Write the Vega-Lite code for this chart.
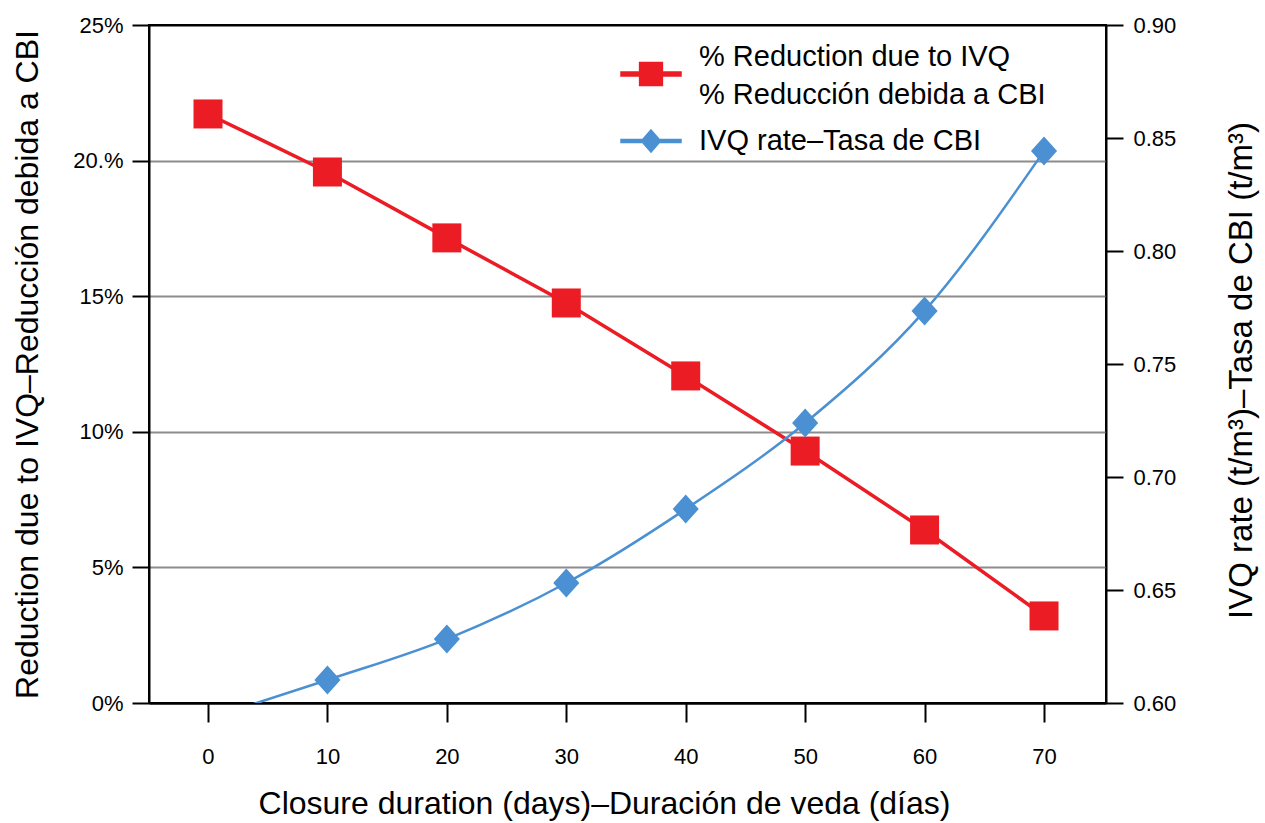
{
  "$schema": "https://vega.github.io/schema/vega-lite/v6.json",
  "width": 957,
  "height": 678,
  "autosize": {"type": "none"},
  "padding": {"left": 149, "top": 25, "right": 159, "bottom": 120},
  "background": "white",
  "config": {
    "font": "Liberation Sans",
    "view": {"stroke": "black", "strokeWidth": 2}
  },
  "datasets": {
    "reduction": [
      {"day": 0, "pct": 0.2172, "series": "% Reduction due to IVQ / % Reducción debida a CBI"},
      {"day": 10, "pct": 0.1958, "series": "% Reduction due to IVQ / % Reducción debida a CBI"},
      {"day": 20, "pct": 0.1715, "series": "% Reduction due to IVQ / % Reducción debida a CBI"},
      {"day": 30, "pct": 0.1475, "series": "% Reduction due to IVQ / % Reducción debida a CBI"},
      {"day": 40, "pct": 0.1206, "series": "% Reduction due to IVQ / % Reducción debida a CBI"},
      {"day": 50, "pct": 0.0929, "series": "% Reduction due to IVQ / % Reducción debida a CBI"},
      {"day": 60, "pct": 0.0638, "series": "% Reduction due to IVQ / % Reducción debida a CBI"},
      {"day": 70, "pct": 0.0321, "series": "% Reduction due to IVQ / % Reducción debida a CBI"}
    ],
    "rate": [
      {"day": 0, "rate": 0.593, "series": "IVQ rate–Tasa de CBI"},
      {"day": 10, "rate": 0.6102, "series": "IVQ rate–Tasa de CBI"},
      {"day": 20, "rate": 0.6283, "series": "IVQ rate–Tasa de CBI"},
      {"day": 30, "rate": 0.6531, "series": "IVQ rate–Tasa de CBI"},
      {"day": 40, "rate": 0.6858, "series": "IVQ rate–Tasa de CBI"},
      {"day": 50, "rate": 0.7239, "series": "IVQ rate–Tasa de CBI"},
      {"day": 60, "rate": 0.7735, "series": "IVQ rate–Tasa de CBI"},
      {"day": 70, "rate": 0.8442, "series": "IVQ rate–Tasa de CBI"}
    ]
  },
  "encoding": {
    "x": {
      "field": "day",
      "type": "quantitative",
      "scale": {"domain": [-4.94, 75.19], "nice": false, "zero": false},
      "axis": {
        "values": [0, 10, 20, 30, 40, 50, 60, 70],
        "grid": false,
        "domainColor": "black",
        "domainWidth": 2,
        "tickColor": "black",
        "tickWidth": 2,
        "tickSize": 19,
        "labelFontSize": 22,
        "labelColor": "black",
        "labelPadding": 24,
        "title": "Closure duration (days)–Duración de veda (días)",
        "titleFontSize": 32,
        "titleFontWeight": "normal",
        "titleColor": "black",
        "titleX": 455,
        "titleY": 100,
        "titleBaseline": "middle",
        "titleAlign": "center"
      }
    },
    "color": {
      "field": "series",
      "type": "nominal",
      "scale": {
        "domain": ["% Reduction due to IVQ / % Reducción debida a CBI", "IVQ rate–Tasa de CBI"],
        "range": ["#ec1c24", "#4a90d2"]
      },
      "legend": {
        "title": null,
        "orient": "none",
        "legendX": 471,
        "legendY": 18,
        "padding": 0,
        "symbolSize": 3600,
        "labelOffset": 17,
        "labelFontSize": 29,
        "labelColor": "black",
        "labelLimit": 600,
        "rowPadding": -23,
        "labelExpr": "split(datum.label, ' / ')",
        "encode": {
          "symbols": {
            "update": {
              "shape": {"signal": "datum.value == 'IVQ rate–Tasa de CBI' ? 'M-1,-0.05H1V0.05H-1ZM0,-0.37L0.32,0L0,0.37L-0.32,0Z' : 'M-1,-0.067H1V0.067H-1ZM-0.38,-0.38H0.38V0.38H-0.38Z'"},
              "fill": {"signal": "scale('color', datum.value)"},
              "stroke": {"value": "transparent"},
              "opacity": {"value": 1},
              "fillOpacity": {"value": 1},
              "size": {"value": 3600}
            }
          },
          "labels": {
            "update": {
              "lineHeight": {"value": 38},
              "dy": {"signal": "datum.value == 'IVQ rate–Tasa de CBI' ? 0 : -17"}
            }
          }
        }
      }
    }
  },
  "layer": [
    {
      "data": {"name": "reduction"},
      "encoding": {
        "y": {
          "field": "pct",
          "type": "quantitative",
          "scale": {"domain": [0, 0.25], "nice": false, "zero": true},
          "axis": {
            "orient": "left",
            "values": [0, 0.05, 0.1, 0.15, 0.2, 0.25],
            "labelExpr": "datum.value > 0.19 && datum.value < 0.21 ? '20.%' : format(datum.value, '.0%')",
            "grid": true,
            "gridColor": {"condition": {"test": "datum.value < 0.01 || datum.value > 0.24", "value": "black"}, "value": "#8c8c8c"},
            "gridWidth": 2,
            "domainColor": "black",
            "domainWidth": 2,
            "tickColor": "black",
            "tickWidth": 2,
            "tickSize": 17,
            "labelFontSize": 22,
            "labelColor": "black",
            "labelPadding": 9,
            "title": "Reduction due to IVQ–Reducción debida a CBI",
            "titleFontSize": 32,
            "titleFontWeight": "normal",
            "titleColor": "black",
            "titleAngle": -90,
            "titleX": -122,
            "titleY": 339,
            "titleBaseline": "middle",
            "titleAlign": "center"
          }
        }
      },
      "layer": [
        {"mark": {"type": "line", "strokeWidth": 3.5}},
        {"mark": {"type": "point", "shape": "square", "filled": true, "size": 841, "opacity": 1}}
      ]
    },
    {
      "data": {"name": "rate"},
      "encoding": {
        "y": {
          "field": "rate",
          "type": "quantitative",
          "scale": {"domain": [0.6, 0.9], "nice": false, "zero": false},
          "axis": {
            "orient": "right",
            "values": [0.6, 0.65, 0.7, 0.75, 0.8, 0.85, 0.9],
            "format": ".2f",
            "grid": false,
            "domainColor": "black",
            "domainWidth": 2,
            "tickColor": "black",
            "tickWidth": 2,
            "tickSize": 17,
            "labelFontSize": 22,
            "labelColor": "black",
            "labelPadding": 10,
            "title": "IVQ rate (t/m³)–Tasa de CBI (t/m³)",
            "titleFontSize": 33,
            "titleFontWeight": "normal",
            "titleColor": "black",
            "titleAngle": -90,
            "titleX": 135,
            "titleY": 345,
            "titleBaseline": "middle",
            "titleAlign": "center"
          }
        }
      },
      "layer": [
        {"mark": {"type": "line", "strokeWidth": 2.5, "interpolate": "monotone", "clip": true}},
        {"mark": {"type": "point", "shape": "M0,-1L0.9,0L0,1L-0.9,0Z", "filled": true, "size": 841, "opacity": 1, "clip": true}}
      ]
    }
  ],
  "resolve": {"scale": {"y": "independent"}}
}
